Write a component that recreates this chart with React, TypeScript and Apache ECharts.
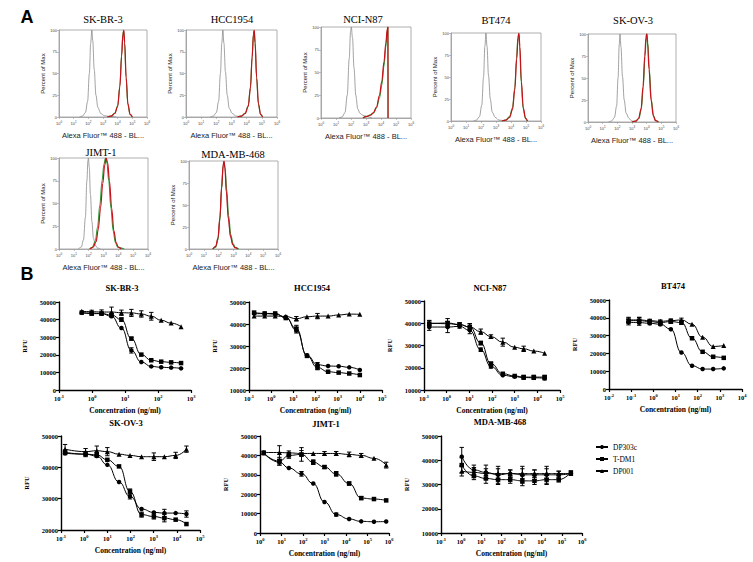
import React, { useEffect, useRef } from "react";
import * as echarts from "echarts";

const SERIF = '"Liberation Serif", "Times New Roman", serif';
const SANS = '"Liberation Sans", Arial, sans-serif';

// ---------- Panel A: flow histograms (x in log10 units) ----------
const histTitles = ["SK-BR-3", "HCC1954", "NCI-N87", "BT474", "SK-OV-3", "JIMT-1", "MDA-MB-468"];
const histXTicks = [0, 1, 2, 3, 4, 5, 6];
const histYTicks = [0, 25, 50, 75, 100];

const grayA_SKBR3 = [[1.4,0],[1.6,1],[1.8,5],[1.95,18],[2.07,50],[2.16,85],[2.24,100],[2.3,88],[2.4,55],[2.52,25],[2.65,11],[2.85,4],[3.1,1.5],[3.5,0.5],[3.9,0]];
const redA_SKBR3 = [[3.3,0],[3.55,1],[3.8,4],[4.0,12],[4.15,35],[4.27,70],[4.36,95],[4.42,100],[4.48,85],[4.58,45],[4.7,15],[4.85,3],[5.0,0]];
const greenA_SKBR3 = [[3.3,0],[3.55,1],[3.8,4.5],[4.0,13],[4.15,36],[4.27,72],[4.35,95],[4.41,99],[4.47,86],[4.57,46],[4.69,15],[4.84,3],[5.0,0]];

const grayA_HCC1954 = [[1.6,0],[1.8,1],[2.0,5],[2.15,18],[2.27,50],[2.36,85],[2.43,100],[2.5,85],[2.6,52],[2.72,25],[2.85,10],[3.05,4],[3.3,1],[3.7,0]];
const redA_HCC1954 = [[3.4,0],[3.65,1],[3.9,4],[4.1,12],[4.25,33],[4.36,68],[4.45,95],[4.5,100],[4.56,85],[4.66,45],[4.78,15],[4.92,3],[5.05,0]];
const greenA_HCC1954 = [[3.4,0],[3.65,1],[3.9,4.5],[4.1,13],[4.25,35],[4.36,70],[4.44,95],[4.49,99],[4.55,86],[4.65,46],[4.77,15],[4.91,3],[5.05,0]];

const grayA_NCIN87 = [[1.2,0],[1.4,1],[1.6,6],[1.75,25],[1.88,65],[1.97,95],[2.02,100],[2.1,88],[2.2,55],[2.32,25],[2.45,10],[2.6,5],[2.8,3],[3.0,2],[3.2,1],[3.4,0]];
const redA_NCIN87 = [[2.8,0],[3.0,1.5],[3.3,3],[3.5,6],[3.7,12],[3.9,25],[4.05,40],[4.2,62],[4.32,82],[4.42,98],[4.46,100],[4.47,0]];
const greenA_NCIN87 = [[2.8,0],[3.0,1.5],[3.3,3.5],[3.5,5.5],[3.7,11],[3.9,22],[4.05,36],[4.2,57],[4.32,78],[4.42,96],[4.46,100],[4.47,0]];

const grayA_BT474 = [[1.5,0],[1.7,1],[1.9,5],[2.05,18],[2.17,50],[2.26,85],[2.33,100],[2.4,85],[2.5,52],[2.62,25],[2.75,10],[2.95,4],[3.2,1],[3.6,0]];
const redA_BT474 = [[3.4,0],[3.65,1],[3.9,4],[4.1,13],[4.25,35],[4.38,70],[4.47,95],[4.53,100],[4.59,85],[4.69,45],[4.82,15],[4.97,3],[5.1,0]];
const greenA_BT474 = [[3.4,0],[3.65,1],[3.9,5],[4.1,15],[4.25,38],[4.37,72],[4.46,95],[4.52,99],[4.58,84],[4.68,44],[4.81,14],[4.96,3],[5.1,0]];

const grayA_SKOV3 = [[1.4,0],[1.6,1],[1.8,5],[1.95,18],[2.05,50],[2.13,88],[2.18,100],[2.25,85],[2.35,52],[2.47,25],[2.6,10],[2.8,4],[3.0,1],[3.3,0]];
const redA_SKOV3 = [[3.0,0],[3.25,1],[3.45,4],[3.62,15],[3.75,40],[3.87,75],[3.95,96],[4.0,100],[4.06,90],[4.16,60],[4.3,25],[4.45,7],[4.6,1.5],[4.8,0]];
const greenA_SKOV3 = [[3.0,0],[3.27,1],[3.47,4],[3.64,15],[3.77,40],[3.89,75],[3.97,96],[4.02,101],[4.08,90],[4.18,60],[4.32,25],[4.47,7],[4.62,1.5],[4.8,0]];

const grayA_JIMT1 = [[1.3,0],[1.5,2],[1.65,10],[1.78,35],[1.88,75],[1.95,97],[1.98,100],[2.04,90],[2.12,60],[2.22,30],[2.32,12],[2.45,4],[2.6,1],[2.8,0]];
const redA_JIMT1 = [[2.1,0],[2.3,2],[2.5,8],[2.65,22],[2.8,45],[2.95,72],[3.08,92],[3.18,100],[3.28,95],[3.4,75],[3.55,45],[3.7,20],[3.85,7],[4.0,2],[4.2,0]];
const greenA_JIMT1 = [[2.05,0],[2.25,2],[2.45,9],[2.6,24],[2.75,48],[2.9,75],[3.03,93],[3.13,100],[3.23,95],[3.35,75],[3.5,45],[3.65,20],[3.8,7],[3.95,2],[4.2,1],[4.4,0]];

const grayA_MDAMB468 = [[1.6,0],[1.8,3],[1.95,12],[2.08,35],[2.2,70],[2.3,95],[2.36,100],[2.42,92],[2.52,65],[2.65,35],[2.8,14],[2.95,5],[3.1,1.5],[3.3,0]];
const redA_MDAMB468 = [[1.6,0],[1.8,3],[1.95,12],[2.08,35],[2.2,70],[2.3,95],[2.36,100],[2.42,92],[2.52,65],[2.65,35],[2.8,14],[2.95,5],[3.1,1.5],[3.3,0]];
const greenA_MDAMB468 = [[1.6,0],[1.8,2],[1.95,10],[2.08,32],[2.2,68],[2.3,94],[2.37,98],[2.43,93],[2.54,68],[2.67,38],[2.82,16],[2.97,6],[3.12,2],[3.35,0]];

const histGray = [grayA_SKBR3, grayA_HCC1954, grayA_NCIN87, grayA_BT474, grayA_SKOV3, grayA_JIMT1, grayA_MDAMB468];
const histRed = [redA_SKBR3, redA_HCC1954, redA_NCIN87, redA_BT474, redA_SKOV3, redA_JIMT1, redA_MDAMB468];
const histGreen = [greenA_SKBR3, greenA_HCC1954, greenA_NCIN87, greenA_BT474, greenA_SKOV3, greenA_JIMT1, greenA_MDAMB468];

// ---------- Panel B: dose response ----------
const doseTitles = ["SK-BR-3", "HCC1954", "NCI-N87", "BT474", "SK-OV-3", "JIMT-1", "MDA-MB-468"];
const seriesNames = ["DP303c", "T-DM1", "DP001"];

const conc_SKBR3 = [0.49, 0.98, 1.95, 3.9, 7.8, 15.6, 31.25, 62.5, 125, 250, 500];
const dp303c_SKBR3 = [43900, 43700, 43400, 41900, 35200, 22500, 15900, 13400, 12900, 12700, 12300];
const tdm1_SKBR3 = [44000, 43400, 43400, 42600, 40000, 29200, 20100, 16900, 16100, 15700, 15300];
const dp001_SKBR3 = [44700, 44500, 44300, 44300, 43900, 43800, 43200, 41900, 39600, 38000, 36000];
const err303_SKBR3 = [500, 500, 500, 500, 400, 1500, 500, 300, 300, 300, 300];
const errTdm_SKBR3 = [500, 800, 800, 800, 1000, 800, 600, 400, 300, 300, 300];
const err001_SKBR3 = [600, 800, 1200, 2800, 1500, 2000, 1800, 2200, 500, 400, 400];

const conc_HCC1954 = [0.17, 0.51, 1.52, 4.57, 13.7, 41.2, 123, 370, 1111, 3333, 10000];
const dp303c_HCC1954 = [44700, 44700, 44500, 43200, 37100, 25800, 21500, 20900, 20800, 20300, 19100];
const tdm1_HCC1954 = [45200, 44800, 44800, 42700, 37900, 25500, 20200, 18300, 17900, 17500, 16800];
const dp001_HCC1954 = [43600, 43600, 43600, 43400, 42400, 43300, 43600, 43600, 44100, 44500, 44400];
const err303_HCC1954 = [500, 500, 500, 500, 1200, 500, 1000, 400, 300, 300, 400];
const errTdm_HCC1954 = [500, 500, 500, 500, 1500, 500, 1000, 400, 300, 300, 600];
const err001_HCC1954 = [400, 400, 400, 400, 1000, 400, 1200, 400, 300, 300, 300];

const conc_NCIN87 = [0.17, 1.1, 3.7, 10.5, 32, 90, 300, 1000, 2500, 7000, 21000];
const dp303c_NCIN87 = [38300, 38300, 38600, 36800, 28100, 20600, 16600, 16000, 15600, 15500, 15300];
const tdm1_NCIN87 = [39800, 40100, 39400, 38300, 31100, 21800, 17300, 16300, 15800, 15800, 15800];
const dp001_NCIN87 = [40100, 39800, 39400, 38300, 36200, 34000, 31500, 29200, 28500, 27500, 26500];
const err303_NCIN87 = [1500, 2500, 800, 1500, 800, 800, 500, 600, 800, 800, 800];
const errTdm_NCIN87 = [1500, 2000, 800, 1500, 800, 800, 500, 600, 800, 800, 800];
const err001_NCIN87 = [1000, 1000, 800, 1500, 1200, 800, 1800, 500, 1200, 400, 400];

const conc_BT474 = [0.076, 0.23, 0.69, 2.06, 6.17, 18.5, 55.6, 167, 500, 1500];
const dp303c_BT474 = [37500, 37300, 36900, 36400, 33600, 20500, 13100, 11200, 11200, 11600];
const tdm1_BT474 = [38400, 38400, 37900, 37300, 37900, 37300, 28500, 20900, 18100, 17500];
const dp001_BT474 = [38800, 38800, 38400, 38000, 38400, 38800, 36400, 29100, 23900, 24400];
const err303_BT474 = [1500, 1500, 800, 800, 500, 500, 400, 300, 300, 300];
const errTdm_BT474 = [1500, 1800, 800, 800, 1000, 1000, 600, 500, 400, 400];
const err001_BT474 = [1500, 1500, 800, 800, 1000, 1000, 500, 400, 400, 400];

const conc_SKOV3 = [0.15, 1.15, 3.5, 10, 32, 95, 300, 1020, 2900, 8900, 26000];
const dp303c_SKOV3 = [44500, 44200, 43600, 40800, 35300, 30700, 26700, 25600, 25400, 25400, 25100];
const tdm1_SKOV3 = [44800, 44200, 44000, 42400, 40300, 32300, 24900, 24300, 23800, 23300, 21900];
const dp001_SKOV3 = [45800, 45000, 45300, 45000, 44200, 43800, 43400, 43400, 43400, 43800, 45800];
const err303_SKOV3 = [600, 600, 600, 600, 400, 800, 500, 600, 1200, 400, 1000];
const errTdm_SKOV3 = [800, 800, 800, 600, 600, 800, 800, 800, 1200, 500, 500];
const err001_SKOV3 = [1500, 1000, 1500, 1300, 400, 400, 400, 1200, 400, 1000, 1000];

const conc_JIMT1 = [1.5, 8, 22, 85, 300, 1000, 3500, 14000, 51000, 200000, 740000];
const dp303c_JIMT1 = [41200, 36500, 33500, 30500, 25500, 16000, 9500, 7200, 6000, 5800, 5900];
const tdm1_JIMT1 = [41200, 37000, 40000, 40500, 36500, 34000, 30500, 25500, 18000, 17500, 16800];
const dp001_JIMT1 = [41500, 41500, 41300, 41000, 41000, 41000, 41000, 40500, 40000, 38500, 35000];
const err303_JIMT1 = [500, 1500, 500, 1200, 500, 500, 800, 500, 300, 300, 300];
const errTdm_JIMT1 = [800, 2000, 1500, 3500, 1200, 800, 1200, 800, 800, 500, 500];
const err001_JIMT1 = [800, 3500, 1000, 1500, 500, 1000, 1000, 1200, 1000, 500, 1500];

const conc_MDAMB468 = [1.07, 4.3, 17, 68, 273, 1094, 4375, 17500, 70000, 280000];
const dp303c_MDAMB468 = [41500, 36000, 35000, 34000, 34500, 34000, 34000, 34000, 34000, 34500];
const tdm1_MDAMB468 = [38000, 33500, 32500, 32000, 32000, 31500, 31500, 32000, 32000, 35000];
const dp001_MDAMB468 = [35500, 35000, 34500, 34500, 34500, 34500, 34500, 34500, 34500, 34500];
const err303_MDAMB468 = [3800, 2000, 3000, 3500, 1500, 3500, 2000, 3500, 1500, 500];
const errTdm_MDAMB468 = [3000, 1500, 2000, 2000, 1500, 2000, 1500, 2000, 1000, 500];
const err001_MDAMB468 = [2000, 2000, 2000, 2000, 1500, 2000, 1500, 2000, 1000, 500];

const doseConc = [conc_SKBR3, conc_HCC1954, conc_NCIN87, conc_BT474, conc_SKOV3, conc_JIMT1, conc_MDAMB468];
const doseVals = [
  [dp303c_SKBR3, tdm1_SKBR3, dp001_SKBR3],
  [dp303c_HCC1954, tdm1_HCC1954, dp001_HCC1954],
  [dp303c_NCIN87, tdm1_NCIN87, dp001_NCIN87],
  [dp303c_BT474, tdm1_BT474, dp001_BT474],
  [dp303c_SKOV3, tdm1_SKOV3, dp001_SKOV3],
  [dp303c_JIMT1, tdm1_JIMT1, dp001_JIMT1],
  [dp303c_MDAMB468, tdm1_MDAMB468, dp001_MDAMB468],
];
const doseErr = [
  [err303_SKBR3, errTdm_SKBR3, err001_SKBR3],
  [err303_HCC1954, errTdm_HCC1954, err001_HCC1954],
  [err303_NCIN87, errTdm_NCIN87, err001_NCIN87],
  [err303_BT474, errTdm_BT474, err001_BT474],
  [err303_SKOV3, errTdm_SKOV3, err001_SKOV3],
  [err303_JIMT1, errTdm_JIMT1, err001_JIMT1],
  [err303_MDAMB468, errTdm_MDAMB468, err001_MDAMB468],
];
const doseXRange = [[0.1, 1000], [0.1, 100000], [0.1, 100000], [0.01, 10000], [0.1, 100000], [1, 1000000], [0.1, 1000000]];
const doseYRange = [[0, 50000], [10000, 50000], [10000, 50000], [0, 50000], [20000, 50000], [0, 50000], [10000, 50000]];

// ---------- layout ----------
const histGrids = [
  { left: 59, top: 30, width: 88, height: 87 },
  { left: 186, top: 30, width: 91, height: 87 },
  { left: 321, top: 27, width: 90, height: 91 },
  { left: 451, top: 33, width: 90, height: 88 },
  { left: 588, top: 34, width: 88, height: 88 },
  { left: 59, top: 158, width: 89, height: 91 },
  { left: 189, top: 161, width: 89, height: 88 },
];
const histTitlePos = [[103, 19], [232, 19], [363, 19], [496, 20], [633, 20], [101, 152], [233, 154]];

const doseGrids = [
  { left: 59, top: 302, width: 132, height: 88 },
  { left: 249, top: 302, width: 133, height: 88 },
  { left: 424, top: 301, width: 136, height: 89 },
  { left: 609, top: 300, width: 133, height: 89 },
  { left: 61, top: 436, width: 139, height: 94 },
  { left: 260, top: 436, width: 129, height: 97 },
  { left: 441, top: 436, width: 141, height: 97 },
];
const doseTitlePos = [[122, 288], [312, 288], [490, 288], [673, 286], [126, 423], [326, 424], [500, 422]];
const symbols = ["circle", "rect", "triangle"];
const symbolSizes = [4.5, 4.5, 5];

const errRender = (params: any, api: any) => {
  const x = api.value(0);
  const a = api.coord([x, api.value(1)]);
  const b = api.coord([x, api.value(2)]);
  const w = 2.2;
  const style = { stroke: "#000", lineWidth: 1 };
  return {
    type: "group",
    children: [
      { type: "line", shape: { x1: a[0], y1: a[1], x2: b[0], y2: b[1] }, style },
      { type: "line", shape: { x1: a[0] - w, y1: a[1], x2: a[0] + w, y2: a[1] }, style },
      { type: "line", shape: { x1: b[0] - w, y1: b[1], x2: b[0] + w, y2: b[1] }, style },
    ],
  };
};

function buildOption() {
  const grid: any[] = [];
  const xAxis: any[] = [];
  const yAxis: any[] = [];
  const series: any[] = [];
  const graphic: any[] = [];

  // Panel A
  histGrids.forEach((g, i) => {
    grid.push({ ...g, show: true, borderColor: "#9a9a9a", borderWidth: 0.8, backgroundColor: "transparent" });
    xAxis.push({
      type: "value", gridIndex: i, min: histXTicks[0], max: histXTicks[histXTicks.length - 1], interval: 1,
      axisLine: { lineStyle: { color: "#9a9a9a", width: 0.8 } },
      axisTick: { length: 2, lineStyle: { color: "#9a9a9a", width: 0.6 } },
      splitLine: { show: false },
      axisLabel: {
        margin: 3, color: "#444",
        formatter: (v: number) => `{b|10}{s|${v}}`,
        rich: { b: { fontSize: 4, fontFamily: SANS, color: "#444" }, s: { fontSize: 3, fontFamily: SANS, color: "#444", padding: [0, 0, 3, 0] } },
      },
      name: "Alexa Fluor\u2122 488 - BL...", nameLocation: "middle", nameGap: 14,
      nameTextStyle: { fontFamily: SANS, fontSize: 7.5, color: "#222" },
    });
    yAxis.push({
      type: "value", gridIndex: i, min: histYTicks[0], max: histYTicks[histYTicks.length - 1], interval: 25,
      axisLine: { show: true, lineStyle: { color: "#9a9a9a", width: 0.8 } },
      axisTick: { show: true, length: 2, lineStyle: { color: "#9a9a9a", width: 0.6 } },
      splitLine: { show: false },
      axisLabel: { margin: 2, fontSize: 4, fontFamily: SANS, color: "#444", formatter: (v: number) => String(v) },
      name: "Percent of Max", nameLocation: "middle", nameGap: 11,
      nameTextStyle: { fontFamily: SANS, fontSize: 6, color: "#222" },
    });
    const base = { type: "line", xAxisIndex: i, yAxisIndex: i, showSymbol: false, smooth: 0.35, smoothMonotone: "x", silent: true };
    series.push({ ...base, data: histGray[i], lineStyle: { color: "#8a8a8a", width: 0.8 } });
    series.push({ ...base, data: histGreen[i], lineStyle: { color: "#2e9e3a", width: 1.1 } });
    series.push({ ...base, data: histRed[i], lineStyle: { color: "#c8101a", width: 1.2 } });
    graphic.push({
      type: "text", x: histTitlePos[i][0], y: histTitlePos[i][1],
      style: { text: histTitles[i], fontFamily: SERIF, fontSize: 10.5, fill: "#000", textAlign: "center", textVerticalAlign: "middle" },
    });
  });

  // Panel B
  doseGrids.forEach((g, j) => {
    const k = j + histGrids.length;
    grid.push({ ...g });
    xAxis.push({
      type: "log", logBase: 10, gridIndex: k, min: doseXRange[j][0], max: doseXRange[j][1],
      axisLine: { lineStyle: { color: "#000", width: 1.4 } },
      axisTick: { length: 3, lineStyle: { color: "#000", width: 1.2 } },
      splitLine: { show: false },
      axisLabel: {
        margin: 4,
        formatter: (v: number) => `{b|10}{s|${Math.round(Math.log10(v))}}`,
        rich: {
          b: { fontSize: 6.5, fontFamily: SERIF, fontWeight: "bold", color: "#000" },
          s: { fontSize: 4.5, fontFamily: SERIF, fontWeight: "bold", color: "#000", padding: [0, 0, 4, 0] },
        },
      },
      name: "Concentration (ng/ml)", nameLocation: "middle", nameGap: 16,
      nameTextStyle: { fontFamily: SERIF, fontWeight: "bold", fontSize: 7.5, color: "#000" },
    });
    yAxis.push({
      type: "value", gridIndex: k, min: doseYRange[j][0], max: doseYRange[j][1], interval: 10000,
      axisLine: { show: true, lineStyle: { color: "#000", width: 1.4 } },
      axisTick: { show: true, length: 3, lineStyle: { color: "#000", width: 1.2 } },
      splitLine: { show: false },
      axisLabel: { margin: 3, fontSize: 6.5, fontFamily: SERIF, fontWeight: "bold", color: "#000", formatter: (v: number) => String(v) },
      name: "RFU", nameLocation: "middle", nameGap: 31,
      nameTextStyle: { fontFamily: SERIF, fontWeight: "bold", fontSize: 6.5, color: "#000" },
    });
    for (let s = 0; s < 3; s++) {
      const xs = doseConc[j];
      const ys = doseVals[j][s];
      const es = doseErr[j][s];
      series.push({
        type: "custom", xAxisIndex: k, yAxisIndex: k, silent: true, z: 3,
        renderItem: errRender, encode: { x: 0, y: [1, 2] },
        data: xs.map((x, n) => [x, ys[n] - es[n], ys[n] + es[n]]).filter((d, n) => es[n] >= 700),
      });
      series.push({
        type: "line", name: seriesNames[s], xAxisIndex: k, yAxisIndex: k, z: 4,
        data: xs.map((x, n) => [x, ys[n]]),
        smooth: 0.5, smoothMonotone: "x",
        symbol: symbols[s], symbolSize: symbolSizes[s], showSymbol: true,
        itemStyle: { color: "#000" }, lineStyle: { color: "#000", width: 1 },
      });
    }
    graphic.push({
      type: "text", x: doseTitlePos[j][0], y: doseTitlePos[j][1],
      style: { text: doseTitles[j], fontFamily: SERIF, fontWeight: "bold", fontSize: 8.5, fill: "#000", textAlign: "center", textVerticalAlign: "middle" },
    });
  });

  graphic.push({ type: "text", x: 27, y: 17, style: { text: "A", fontFamily: SANS, fontWeight: "bold", fontSize: 18, fill: "#000", textAlign: "center", textVerticalAlign: "middle" } });
  graphic.push({ type: "text", x: 27, y: 274, style: { text: "B", fontFamily: SANS, fontWeight: "bold", fontSize: 18, fill: "#000", textAlign: "center", textVerticalAlign: "middle" } });

  return {
    animation: false,
    backgroundColor: "#fff",
    grid, xAxis, yAxis, series, graphic,
    legend: {
      data: seriesNames, orient: "vertical", left: 590, top: 438,
      itemWidth: 12, itemHeight: 5, itemGap: 4,
      textStyle: { fontFamily: SERIF, fontSize: 7.5, color: "#000" },
    },
  };
}

export default function App() {
  const ref = useRef<HTMLDivElement>(null);
  useEffect(() => {
    if (!ref.current) return;
    const chart = echarts.init(ref.current, null, { renderer: "svg" });
    chart.setOption(buildOption() as any);
    return () => chart.dispose();
  }, []);
  return <div ref={ref} style={{ position: "absolute", left: 0, top: 0, width: 753, height: 562, background: "#fff" }} />;
}
